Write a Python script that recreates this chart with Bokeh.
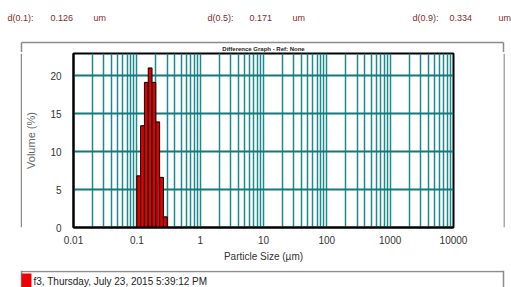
from bokeh.plotting import figure
from bokeh.models import FixedTicker, Range1d, ColumnDataSource
from bokeh.layouts import column, row
from bokeh.core.properties import value
from bokeh.embed import file_html
from bokeh.resources import INLINE

# ---- data ----
size_lo = [0.1, 0.1148, 0.1318, 0.1514, 0.1738, 0.1995, 0.2291, 0.2630]
size_hi = [0.1148, 0.1318, 0.1514, 0.1738, 0.1995, 0.2291, 0.2630, 0.3020]
volume = [6.8, 13.4, 19.1, 21.0, 19.1, 13.9, 6.6, 1.4]
x_ticks = [0.01, 0.1, 1, 10, 100, 1000, 10000]
x_tick_labels = ["0.01", "0.1", "1", "10", "100", "1000", "10000"]
y_ticks = [0, 5, 10, 15, 20]
stat_names = ["d(0.1):", "d(0.5):", "d(0.9):"]
stat_values = ["0.126", "0.171", "0.334"]
stat_unit = "um"
legend_text = "f3, Thursday, July 23, 2015 5:39:12 PM"
title_text = "Difference Graph - Ref: None"

# grid positions (1..9 x each decade)
grid_x = [m * 10.0 ** e for e in range(-2, 4) for m in range(1, 10)] + [10000]

FONT = "Liberation Sans"
TEAL = "#1a8a8a"
BOXC = "#8c8c8c"
W = 511


def strip(w, h):
    f = figure(width=w, height=h, x_range=Range1d(0, w), y_range=Range1d(h, 0),
               x_axis_type=None, y_axis_type=None, output_backend="svg",
               toolbar_location=None, title_location=None, min_border=0)
    f.outline_line_color = None
    f.background_fill_color = "white"
    f.border_fill_color = "white"
    return f


# ---- top strip: statistics header and title ----
TOP_H = 52
top = strip(W, TOP_H)
hx, ht = [], []
for nx, vx, ux, n, v in zip([7, 207, 412], [50, 249, 449], [93, 292, 498],
                            stat_names, stat_values):
    hx += [nx, vx, ux]
    ht += [n, v, stat_unit]
top.text(x=hx, y=[17] * len(hx), text=ht, text_font=value(FONT),
         text_font_size=value("9px"), text_color="#7b2c2c", text_baseline="middle")
top.segment(x0=[21, 21, 503], y0=[42, 42, 42], x1=[503, 21, 503], y1=[42, TOP_H, TOP_H],
            line_color=BOXC, line_width=1.5)
top.text(x=[263], y=[48.5], text=[title_text], text_font=value(FONT),
         text_font_size=value("6px"), text_font_style="bold", text_color="#222222",
         text_align="center", text_baseline="middle")

# ---- main chart ----
MID_H = 270 - TOP_H
LEFT_W, RIGHT_W = 22, W - 503
p = figure(width=503 - LEFT_W, height=MID_H, x_axis_type="log",
           x_range=Range1d(0.01, 10000), y_range=Range1d(0, 22.9),
           output_backend="svg", toolbar_location=None, title_location=None,
           min_border_left=73 - LEFT_W, min_border_right=503 - 453,
           min_border_top=53 - TOP_H, min_border_bottom=MID_H - (227 - TOP_H))
p.background_fill_color = "white"
p.border_fill_color = "white"
p.outline_line_color = "black"
p.outline_line_width = 2

src = ColumnDataSource(dict(left=size_lo, right=size_hi, top=volume))
p.quad(left="left", right="right", bottom=0, top="top", source=src,
       fill_color="#e00000", line_color="black", line_width=1)

p.xaxis.ticker = FixedTicker(ticks=x_ticks, minor_ticks=[])
p.xaxis.major_label_overrides = dict(zip(x_ticks, x_tick_labels))
p.yaxis.ticker = FixedTicker(ticks=y_ticks, minor_ticks=[])
for ax in (p.xaxis[0], p.yaxis[0]):
    ax.axis_line_color = "black"
    ax.axis_line_width = 2
    ax.major_tick_line_color = None
    ax.minor_tick_line_color = None
    ax.major_label_text_font = FONT
    ax.major_label_text_font_size = "10px"
    ax.major_label_text_color = "#333333"
    ax.axis_label_text_font = FONT
    ax.axis_label_text_font_style = "normal"
    ax.axis_label_text_font_size = "10px"
p.xaxis.major_label_standoff = 2
p.yaxis.major_label_standoff = 6
p.xaxis.axis_label = "Particle Size (µm)"
p.xaxis.axis_label_text_color = "#333333"
p.xaxis.axis_label_standoff = 4
p.yaxis.axis_label = "Volume (%)"
p.yaxis.axis_label_text_color = "#666666"
p.yaxis.axis_label_text_font_size = "11px"
p.yaxis.axis_label_standoff = 10

p.xgrid.ticker = FixedTicker(ticks=grid_x)
p.xgrid.grid_line_color = TEAL
p.xgrid.grid_line_width = 1.5
p.ygrid.ticker = FixedTicker(ticks=[5, 10, 15, 20])
p.ygrid.grid_line_color = "#127a7a"
p.ygrid.grid_line_width = 2

left = strip(LEFT_W, MID_H)
left.segment(x0=[21], y0=[0], x1=[21], y1=[MID_H], line_color=BOXC, line_width=1.5)
right = strip(RIGHT_W, MID_H)
right.segment(x0=[0.5], y0=[0], x1=[0.5], y1=[MID_H], line_color=BOXC, line_width=1.5)

# ---- bottom strip: legend ----
BOT_H = 287 - 270
bot = strip(W, BOT_H)
bot.segment(x0=[21, 21, 503], y0=[1, 0, 0], x1=[503, 21, 503], y1=[1, BOT_H, BOT_H],
            line_color=BOXC, line_width=1.5)
bot.quad(left=[21], right=[31], top=[3], bottom=[BOT_H], fill_color="#ee0000",
         line_color=None)
bot.text(x=[33], y=[11], text=[legend_text], text_font=value(FONT),
         text_font_size=value("10px"), text_color="#222222", text_baseline="middle")

layout = column(top, row(left, p, right, spacing=0), bot, spacing=0)
open("out.html", "w").write(file_html(layout, INLINE))
